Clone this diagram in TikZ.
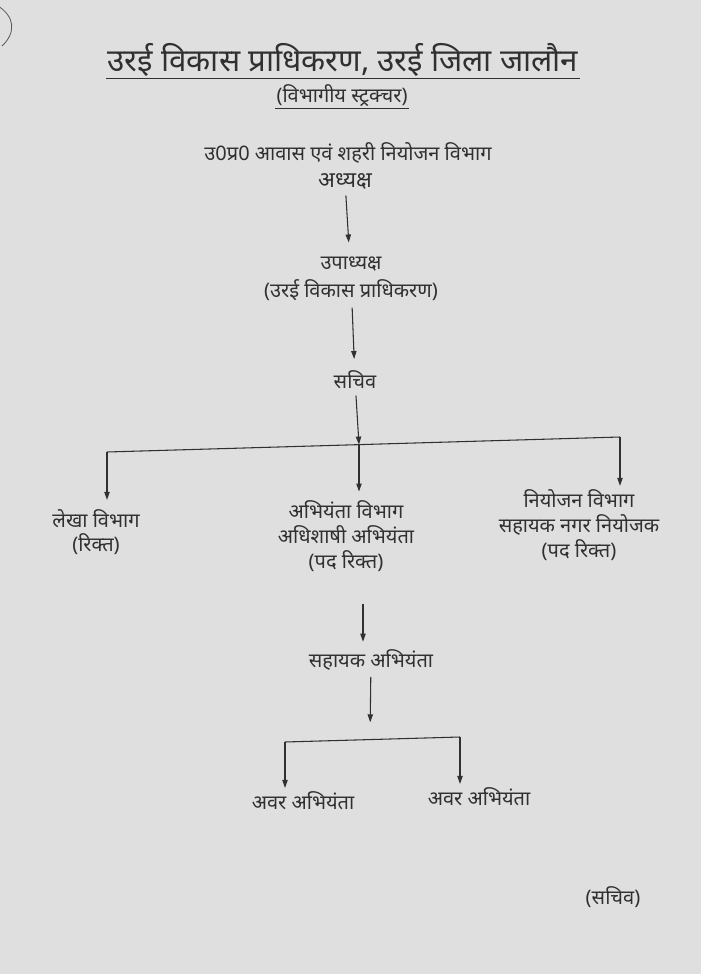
\documentclass[tikz,border=0pt]{standalone}
\usepackage{fontspec}
\newfontfamily\hindi[Script=Devanagari]{Noto Sans}
\usetikzlibrary{arrows.meta}
\definecolor{paper}{RGB}{223,223,223}
\definecolor{ink}{RGB}{48,48,48}

\begin{document}
\begin{tikzpicture}[x=0.75pt,y=0.75pt,yscale=-1,xscale=1,
        lbl/.style={inner sep=0.75pt, text=ink, font=\hindi\fontsize{15}{18.5}\selectfont},
        ln/.style={draw=ink, line width=0.8pt},
        arr/.style={ln, -{Triangle[length=6pt,width=4pt]}, shorten <=4pt, shorten >=6pt}]
        %set diagram: paper of 700 x 974
        \useasboundingbox (0,0) rectangle (700,974);
        \fill[paper] (-6,-6) rectangle (706,980);

        %Curve Lines (pen mark)
        \draw [ink!80, line width=0.6pt] (-2,6) .. controls (14,16) and (17,32) .. (2,46) ;

        % Text Node
        \node [lbl, font=\hindi\fontsize{23.5}{26}\selectfont, inner sep=1pt] (title) at (343,60) {उरई विकास प्राधिकरण, उरई जिला जालौन};
        \draw [ln] (title.south west) -- (title.south east) ;
        % Text Node
        \node [lbl] (sub) at (342,96) {(विभागीय स्ट्रक्चर)};
        \draw [ln] (sub.south west) -- (sub.south east) ;

        % Text Node
        \node [lbl] (dept) at (348,153) {उ0प्र0 आवास एवं शहरी नियोजन विभाग};
        % Text Node
        \node [lbl, font=\hindi\fontsize{16.5}{20}\selectfont] (adhyaksh) at (345,181) {अध्यक्ष};
        % Text Node
        \node [lbl, align=center, font=\hindi\fontsize{15}{21}\selectfont] (upadhyaksh) at (351,279) {उपाध्यक्ष\\(उरई विकास प्राधिकरण)};
        % Text Node
        \node [lbl] (sachiv) at (355,380) {सचिव};

        %Straight Lines
        \coordinate (jL) at (107,452) ;
        \coordinate (jM) at (359,444.6) ;
        \coordinate (jR) at (620,437) ;
        \draw [ln] (jL) -- (jR) ;

        % Text Node
        \node [lbl, align=center] (lekha) at (96,532) {लेखा विभाग\\(रिक्त)};
        % Text Node
        \node [lbl, align=center] (abhiyanta) at (346,536) {अभियंता विभाग\\अधिशाषी अभियंता\\(पद रिक्त)};
        % Text Node
        \node [lbl, align=center] (niyojan) at (579,525) {नियोजन विभाग\\सहायक नगर नियोजक\\(पद रिक्त)};

        % Text Node
        \node [lbl] (sahayak) at (371,660) {सहायक अभियंता};

        %Straight Lines
        \coordinate (kL) at (285,742) ;
        \coordinate (kM) at (370,739.6) ;
        \coordinate (kR) at (460,737) ;
        \draw [ln] (kL) -- (kR) ;

        % Text Node
        \node [lbl] (avarA) at (303,801) {अवर अभियंता};
        % Text Node
        \node [lbl] (avarB) at (479,797) {अवर अभियंता};
        % Text Node
        \node [lbl] (sign) at (613,897) {(सचिव)};

        %Arrows
        \draw [arr, shorten >=10pt] (adhyaksh) -- (upadhyaksh) ;
        \draw [arr, shorten >=8pt] (upadhyaksh) -- (sachiv) ;
        \draw [arr, shorten >=0pt] (sachiv) -- (jM) ;
        \draw [arr, shorten <=0pt] (jL) -- (jL |- lekha.north) ;
        \draw [arr, shorten <=0pt] (jM) -- (jM |- abhiyanta.north) ;
        \draw [arr, shorten <=0pt, shorten >=2pt] (jR) -- (jR |- niyojan.north) ;
        \draw [arr, shorten <=24pt, shorten >=5pt] ([xshift=3pt]jM |- abhiyanta.south) -- ([xshift=3pt]jM |- sahayak.north) ;
        \draw [arr, shorten >=13pt] (sahayak) -- (kM) ;
        \draw [arr, shorten <=0pt, shorten >=2pt] (kL) -- (kL |- avarA.north) ;
        \draw [arr, shorten <=0pt, shorten >=2pt] (kR) -- (kR |- avarB.north) ;
    \end{tikzpicture}
\end{document}
